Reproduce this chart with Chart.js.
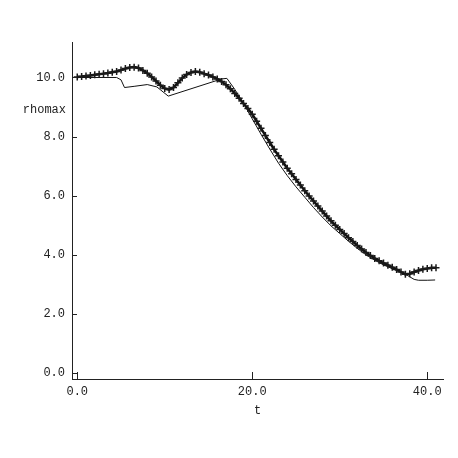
<!DOCTYPE html>
<html>
<head>
<meta charset="utf-8">
<script src="https://cdn.jsdelivr.net/npm/chart.js@4/dist/chart.umd.min.js"></script>
<style>
  html, body { margin: 0; padding: 0; background: #fff; }
  #plot { display: block; }
</style>
</head>
<body>
<canvas id="plot" width="458" height="458"></canvas>
<script>
(function () {
    'use strict';

    // series with markers: t / rhomax
    const tMarked = [
        0, 0.5, 1, 1.5, 2, 2.5, 3, 3.5, 4, 4.5, 5, 5.5, 6, 6.5, 7, 7.5, 8, 8.5, 9, 9.5,
        10, 10.5, 11, 11.5, 12, 12.5, 13, 13.5, 14, 14.5, 15, 15.5, 16, 16.5, 17, 17.5, 18, 18.5, 19, 19.5,
        20, 20.5, 21, 21.5, 22, 22.5, 23, 23.5, 24, 24.5, 25, 25.5, 26, 26.5, 27, 27.5, 28, 28.5, 29, 29.5,
        30, 30.5, 31, 31.5, 32, 32.5, 33, 33.5, 34, 34.5, 35, 35.5, 36, 36.5, 37, 37.5, 38, 38.5, 39, 39.5,
        40, 40.5, 41
    ];
    const rhoMarked = [
        10.02, 10.03, 10.05, 10.07, 10.09, 10.11, 10.13, 10.15, 10.18, 10.20, 10.25, 10.30, 10.34, 10.35, 10.32, 10.24, 10.14, 10.02, 9.88, 9.74,
        9.63, 9.59, 9.66, 9.82, 9.98, 10.10, 10.17, 10.20, 10.18, 10.13, 10.08, 10.02, 9.95, 9.86, 9.75, 9.62, 9.46, 9.30, 9.12, 8.95,
        8.76, 8.52, 8.28, 8.04, 7.80, 7.57, 7.35, 7.14, 6.93, 6.74, 6.55, 6.36, 6.17, 5.99, 5.82, 5.65, 5.48, 5.31, 5.15, 5.00,
        4.86, 4.72, 4.58, 4.45, 4.32, 4.20, 4.08, 3.98, 3.88, 3.80, 3.72, 3.65, 3.58, 3.50, 3.42, 3.34, 3.36, 3.42, 3.47, 3.51,
        3.54, 3.56, 3.56
    ];

    // thin series: t / rhomax
    const tPlain = [
        0, 4.5, 5.0, 5.4, 6.5, 8.0, 9.1, 10.4, 16.5, 17.1, 18, 19, 20, 21, 22, 23, 24, 25, 26, 27,
        28, 29, 30, 31, 32, 33, 34, 35, 36, 37, 37.7, 38.5, 39, 40, 40.9
    ];
    const rhoPlain = [
        10.00, 10.00, 9.92, 9.66, 9.70, 9.76, 9.68, 9.37, 9.95, 9.97, 9.60, 9.12, 8.60, 8.08, 7.58, 7.10, 6.68, 6.30, 5.95, 5.60,
        5.28, 4.98, 4.72, 4.46, 4.22, 4.00, 3.82, 3.66, 3.53, 3.41, 3.31, 3.17, 3.14, 3.14, 3.15
    ];

    const xTicks = [0, 20, 40];
    const yTicks = [0, 2, 4, 6, 8, 10];
    const xLabel = 't';
    const yLabel = 'rhomax';

    const FONT = { family: '"Liberation Mono", "DejaVu Sans Mono", monospace', size: 12 };
    const INK = '#222';

    function points(xs, ys) {
        return xs.map((x, i) => ({ x, y: ys[i] }));
    }

    /** inward tick marks + horizontal y title */
    const axisDecor = {
        id: 'axisDecor',
        afterDraw(chart) {
            const { ctx, chartArea, scales } = chart;
            ctx.save();
            ctx.strokeStyle = INK;
            ctx.lineWidth = 1;
            ctx.beginPath();
            scales.x.ticks.forEach(t => {
                const px = Math.round(scales.x.getPixelForValue(t.value)) + 0.5;
                ctx.moveTo(px, chartArea.bottom);
                ctx.lineTo(px, chartArea.bottom - 7);
            });
            scales.y.ticks.forEach(t => {
                const py = Math.round(scales.y.getPixelForValue(t.value)) + 0.5;
                ctx.moveTo(chartArea.left, py);
                ctx.lineTo(chartArea.left + 5, py);
            });
            ctx.stroke();

            ctx.fillStyle = INK;
            ctx.font = `${FONT.size}px ${FONT.family}`;
            ctx.textAlign = 'right';
            ctx.textBaseline = 'middle';
            ctx.fillText(yLabel, chartArea.left - 6, chartArea.top + 68);
            ctx.restore();
        }
    };

    new Chart(document.getElementById('plot'), {
        type: 'line',
        data: {
            datasets: [
                {
                    data: points(tMarked, rhoMarked),
                    borderColor: '#111',
                    borderWidth: 2.5,
                    pointStyle: 'cross',
                    pointRadius: 3.5,
                    pointBorderWidth: 1.5,
                    pointBorderColor: '#1a1a1a',
                    pointBackgroundColor: '#1a1a1a',
                    tension: 0
                },
                {
                    data: points(tPlain, rhoPlain),
                    borderColor: '#111',
                    borderWidth: 1,
                    pointRadius: 0,
                    tension: 0
                }
            ]
        },
        options: {
            responsive: false,
            animation: false,
            events: [],
            layout: { padding: { top: 42, right: 15, left: 0, bottom: 34 } },
            plugins: { legend: { display: false }, tooltip: { enabled: false } },
            scales: {
                x: {
                    type: 'linear',
                    min: -0.6,
                    max: 41.8,
                    afterBuildTicks: s => { s.ticks = xTicks.map(v => ({ value: v })); },
                    afterFit: s => { s.height = 45; },
                    grid: { display: false, drawTicks: false },
                    border: { display: true, color: INK, width: 1 },
                    ticks: {
                        padding: 6,
                        color: INK,
                        font: FONT,
                        maxRotation: 0,
                        callback: v => Number(v).toFixed(1)
                    },
                    title: { display: true, text: xLabel, color: INK, font: FONT, padding: { top: 0, bottom: 6 } }
                },
                y: {
                    type: 'linear',
                    min: -0.2,
                    max: 11.2,
                    afterBuildTicks: s => { s.ticks = yTicks.map(v => ({ value: v })); },
                    afterFit: s => { s.width = 72; },
                    grid: { display: false, drawTicks: false },
                    border: { display: true, color: INK, width: 1 },
                    ticks: {
                        padding: 7,
                        color: INK,
                        font: FONT,
                        callback: v => Number(v).toFixed(1)
                    }
                }
            }
        },
        plugins: [axisDecor]
    });
})();
</script>
</body>
</html>
